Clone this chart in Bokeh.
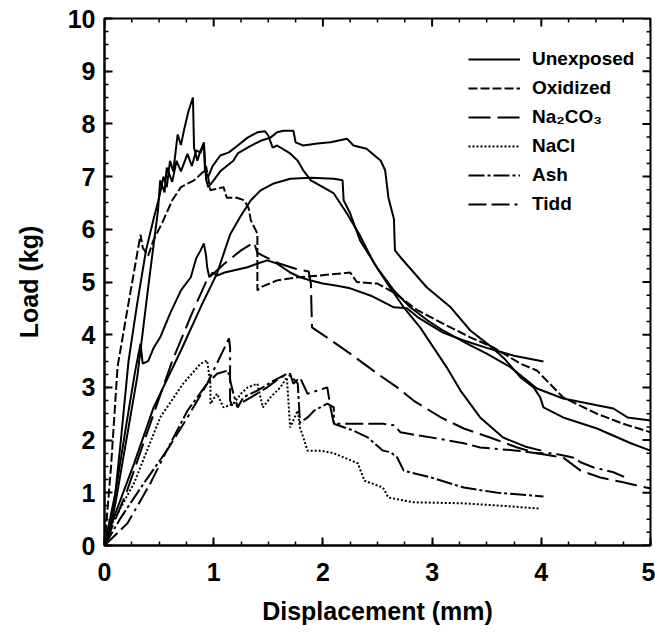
from bokeh.plotting import figure
from bokeh.models import SingleIntervalTicker, Legend, LegendItem, Range1d
from bokeh.embed import file_html
from bokeh.resources import INLINE

# ---- data (displacement mm, load kg) ----
unexposed_a_x = [0, 0.05, 0.1, 0.15, 0.22, 0.3, 0.38, 0.45, 0.5, 0.54, 0.57, 0.6, 0.63, 0.67, 0.7, 0.73, 0.77, 0.81, 0.82, 0.85, 0.88, 0.91, 0.92, 0.95, 0.99, 1.06, 1.14, 1.22, 1.31, 1.40, 1.47, 1.50, 1.54, 1.58, 1.70, 1.77, 1.82, 1.89, 2.00, 2.10, 2.22, 2.34, 2.47, 2.62, 2.74, 2.89, 3.14, 3.26, 3.44, 3.65, 3.85, 4.00]
unexposed_a_y = [0, 0.3, 1.0, 2.0, 3.5, 4.6, 5.6, 6.2, 6.6, 7.0, 6.8, 7.3, 7.1, 7.8, 7.6, 7.9, 8.25, 8.5, 7.55, 7.3, 7.5, 7.62, 7.1, 7.0, 7.2, 7.4, 7.46, 7.59, 7.74, 7.84, 7.86, 7.78, 7.55, 7.59, 7.44, 7.3, 7.12, 6.93, 6.8, 6.68, 6.3, 5.88, 5.35, 4.88, 4.52, 4.14, 3.36, 2.94, 2.43, 2.05, 1.88, 1.8]

unexposed_b_x = [0, 0.05, 0.1, 0.2, 0.3, 0.4, 0.49, 0.51, 0.55, 0.57, 0.62, 0.66, 0.7, 0.76, 0.8, 0.84, 0.88, 0.91, 0.93, 0.95, 1.0, 1.06, 1.12, 1.18, 1.22, 1.31, 1.43, 1.52, 1.58, 1.64, 1.73, 1.75, 1.82, 1.95, 2.07, 2.22, 2.28, 2.4, 2.53, 2.57, 2.6, 2.65, 2.66, 2.71, 2.87, 2.95, 3.17, 3.35, 3.56, 3.66, 3.81, 3.93, 3.99, 4.02, 4.2, 4.51, 4.82, 5.0]
unexposed_b_y = [0, 0.3, 0.8, 2.0, 3.2, 4.9, 6.36, 6.93, 6.7, 7.17, 6.9, 7.3, 7.1, 7.43, 7.2, 7.5, 7.45, 7.65, 6.95, 6.8, 6.93, 7.1, 7.2, 7.3, 7.44, 7.55, 7.68, 7.74, 7.84, 7.87, 7.87, 7.65, 7.59, 7.63, 7.65, 7.72, 7.59, 7.53, 7.3, 7.12, 6.6, 6.2, 5.6, 5.47, 5.09, 4.9, 4.52, 4.08, 3.74, 3.55, 3.19, 3.0, 2.81, 2.62, 2.43, 2.22, 1.94, 1.8]

unexposed_c_x = [0, 0.08, 0.27, 0.45, 0.7, 0.88, 1.03, 1.15, 1.25, 1.34, 1.43, 1.55, 1.7, 1.89, 2.1, 2.18, 2.19, 2.25, 2.34, 2.5, 2.65, 2.8, 2.96, 3.1, 3.32, 3.5, 3.72, 3.96, 4.2, 4.51, 4.66, 4.79, 5.0]
unexposed_c_y = [0, 0.5, 1.55, 2.62, 3.7, 4.52, 5.16, 5.9, 6.26, 6.55, 6.74, 6.87, 6.96, 6.98, 6.96, 6.93, 6.55, 6.3, 5.79, 5.26, 4.84, 4.52, 4.27, 4.08, 3.83, 3.64, 3.38, 2.98, 2.79, 2.66, 2.6, 2.43, 2.37]

unexposed_d_x = [0, 0.1, 0.2, 0.28, 0.33, 0.35, 0.4, 0.45, 0.51, 0.6, 0.7, 0.79, 0.84, 0.88, 0.91, 0.93, 0.94, 0.96, 0.99, 1.03, 1.1, 1.18, 1.31, 1.43, 1.49, 1.58, 1.7, 1.79, 1.89, 2.0, 2.13, 2.25, 2.44, 2.65, 2.77, 2.87, 3.1, 3.29, 3.5, 3.75, 4.02]
unexposed_d_y = [0, 1.0, 2.3, 3.3, 3.83, 3.45, 3.5, 3.75, 3.95, 4.4, 4.84, 5.09, 5.45, 5.6, 5.73, 5.5, 5.28, 5.09, 5.18, 5.12, 5.18, 5.22, 5.28, 5.37, 5.41, 5.35, 5.18, 5.09, 5.03, 4.97, 4.93, 4.88, 4.74, 4.52, 4.5, 4.33, 4.04, 3.89, 3.75, 3.6, 3.49]

oxidized_x = [0, 0.06, 0.12, 0.22, 0.33, 0.35, 0.4, 0.45, 0.53, 0.62, 0.7, 0.82, 0.91, 0.93, 0.97, 1.09, 1.12, 1.21, 1.28, 1.32, 1.34, 1.4, 1.4, 1.43, 1.58, 1.77, 1.95, 2.25, 2.31, 2.5, 2.65, 2.87, 3.1, 3.35, 3.56, 3.81, 3.96, 4.2, 4.51, 4.75, 5.0]
oxidized_y = [0, 1.5, 3.4, 4.6, 5.9, 5.65, 5.5, 5.8, 6.13, 6.55, 6.8, 6.93, 7.1, 7.2, 6.74, 6.8, 6.6, 6.6, 6.55, 6.4, 6.17, 5.92, 4.84, 4.9, 5.03, 5.09, 5.12, 5.18, 5.0, 4.97, 4.8, 4.46, 4.21, 3.95, 3.76, 3.45, 3.32, 2.81, 2.5, 2.31, 2.15]

na2co3_x = [0, 0.2, 0.4, 0.62, 0.8, 0.94, 1.1, 1.25, 1.37, 1.4, 1.5, 1.6, 1.75, 1.87, 1.89, 1.9, 2.07, 2.25, 2.5, 2.68, 2.83, 3.08, 3.29, 3.53, 3.78, 3.96, 4.2, 4.36, 4.54, 4.75, 5.0]
na2co3_y = [0, 1.0, 2.2, 3.5, 4.4, 5.05, 5.35, 5.6, 5.75, 5.55, 5.45, 5.35, 5.25, 5.2, 4.97, 4.14, 3.9, 3.64, 3.26, 3.0, 2.75, 2.43, 2.22, 2.05, 1.86, 1.75, 1.67, 1.42, 1.29, 1.2, 1.08]

nacl_x = [0, 0.05, 0.27, 0.51, 0.72, 0.88, 0.94, 0.97, 0.97, 1.03, 1.09, 1.18, 1.25, 1.31, 1.4, 1.45, 1.52, 1.61, 1.67, 1.7, 1.77, 1.79, 1.86, 1.98, 2.1, 2.32, 2.38, 2.55, 2.6, 2.83, 3.29, 3.6, 3.99]
nacl_y = [0, 0.34, 1.18, 2.43, 3.07, 3.45, 3.51, 3.07, 2.69, 2.88, 2.62, 2.69, 2.88, 3.0, 3.07, 2.62, 2.81, 3.0, 3.19, 2.24, 2.56, 2.24, 1.8, 1.8, 1.75, 1.56, 1.23, 1.1, 0.91, 0.82, 0.8, 0.76, 0.7]

ash_x = [0, 0.15, 0.36, 0.57, 0.76, 0.94, 1.03, 1.13, 1.18, 1.22, 1.27, 1.4, 1.55, 1.67, 1.72, 1.77, 1.79, 1.86, 1.92, 2.04, 2.1, 2.1, 2.28, 2.41, 2.55, 2.62, 2.68, 2.74, 2.99, 3.29, 3.6, 4.02]
ash_y = [0, 0.53, 1.18, 1.8, 2.56, 3.07, 3.26, 3.32, 2.88, 2.62, 2.81, 2.94, 3.13, 3.26, 3.19, 3.07, 2.33, 2.43, 2.56, 2.69, 2.62, 2.31, 2.18, 2.05, 1.8, 1.77, 1.67, 1.42, 1.29, 1.1, 1.0, 0.93]

tidd_x = [0, 0.21, 0.42, 0.57, 0.76, 0.94, 1.14, 1.15, 1.15, 1.18, 1.34, 1.49, 1.61, 1.7, 1.73, 1.79, 1.86, 1.95, 2.04, 2.07, 2.1, 2.28, 2.55, 2.65, 2.71, 2.87, 3.05, 3.29, 3.44, 3.78, 3.96, 4.11, 4.29, 4.36, 4.48, 4.66, 4.77]
tidd_y = [0, 0.42, 1.18, 1.8, 2.43, 3.07, 3.93, 3.76, 2.75, 2.62, 2.81, 3.0, 3.19, 3.26, 3.07, 3.19, 2.88, 2.94, 3.0, 2.62, 2.31, 2.31, 2.31, 2.28, 2.15, 2.09, 2.03, 1.94, 1.86, 1.8, 1.75, 1.75, 1.67, 1.58, 1.48, 1.39, 1.29]

legend_labels = ["Unexposed", "Oxidized", "Na\u2082CO\u2083", "NaCl", "Ash", "Tidd"]
x_label = "Displacement (mm)"
y_label = "Load (kg)"

# axis extents and tick spacing
X_MIN, X_MAX, Y_MIN, Y_MAX = 0, 5, 0, 10
MAJOR_STEP, MINOR_PER_MAJOR = 1, 4

FONT = "Liberation Sans"
W, H = 655, 633
B_LEFT, B_RIGHT, B_TOP, B_BOTTOM = 104, 5, 18, 88

p = figure(width=W, height=H, x_range=Range1d(X_MIN, X_MAX), y_range=Range1d(Y_MIN, Y_MAX),
           output_backend="svg", toolbar_location=None,
           min_border_left=B_LEFT, min_border_right=B_RIGHT,
           min_border_top=B_TOP, min_border_bottom=B_BOTTOM,
           background_fill_color="white", border_fill_color="white")
p.xgrid.visible = False
p.ygrid.visible = False
p.outline_line_color = "black"
p.outline_line_width = 2

for ax in (p.xaxis[0], p.yaxis[0]):
    ax.ticker = SingleIntervalTicker(interval=MAJOR_STEP, num_minor_ticks=MINOR_PER_MAJOR)
    ax.major_tick_in = 8
    ax.major_tick_out = 0
    ax.minor_tick_in = 4
    ax.minor_tick_out = 0
    ax.axis_line_width = 2
    ax.major_tick_line_width = 2
    ax.minor_tick_line_width = 1.5
    ax.axis_line_color = "black"
    ax.major_tick_line_color = "black"
    ax.minor_tick_line_color = "black"
    ax.major_label_text_font = FONT
    ax.major_label_text_font_style = "bold"
    ax.major_label_text_font_size = "25px"
    ax.major_label_text_color = "black"
    ax.axis_label_text_font = FONT
    ax.axis_label_text_font_style = "bold"
    ax.axis_label_text_font_size = "25px"
    ax.axis_label_text_color = "black"

p.xaxis[0].axis_label = x_label
p.yaxis[0].axis_label = y_label
p.xaxis[0].major_label_standoff = 17
p.xaxis[0].axis_label_standoff = 13
p.yaxis[0].major_label_standoff = 9
p.yaxis[0].axis_label_standoff = 22

# inward ticks on the top and right frame edges (mirroring bottom/left axes)
frame_w = W - B_LEFT - B_RIGHT
frame_h = H - B_TOP - B_BOTTOM
px_x = (X_MAX - X_MIN) / frame_w
px_y = (Y_MAX - Y_MIN) / frame_h
step_minor = MAJOR_STEP / MINOR_PER_MAJOR
xt = [X_MIN + i * step_minor for i in range(int(round((X_MAX - X_MIN) / step_minor)) + 1)]
yt = [Y_MIN + i * step_minor for i in range(int(round((Y_MAX - Y_MIN) / step_minor)) + 1)]
xt_major = [v for v in xt if abs(v - round(v)) < 1e-9]
xt_minor = [v for v in xt if abs(v - round(v)) >= 1e-9]
yt_major = [v for v in yt if abs(v - round(v)) < 1e-9]
yt_minor = [v for v in yt if abs(v - round(v)) >= 1e-9]
p.segment(x0=xt_major, y0=[Y_MAX] * len(xt_major), x1=xt_major, y1=[Y_MAX - 8 * px_y] * len(xt_major),
          line_color="black", line_width=2)
p.segment(x0=xt_minor, y0=[Y_MAX] * len(xt_minor), x1=xt_minor, y1=[Y_MAX - 4 * px_y] * len(xt_minor),
          line_color="black", line_width=1.5)
p.segment(x0=[X_MAX] * len(yt_major), y0=yt_major, x1=[X_MAX - 8 * px_x] * len(yt_major), y1=yt_major,
          line_color="black", line_width=2)
p.segment(x0=[X_MAX] * len(yt_minor), y0=yt_minor, x1=[X_MAX - 4 * px_x] * len(yt_minor), y1=yt_minor,
          line_color="black", line_width=1.5)

LW = 2
r_un = p.line(unexposed_a_x, unexposed_a_y, line_color="black", line_width=LW)
p.line(unexposed_b_x, unexposed_b_y, line_color="black", line_width=LW)
p.line(unexposed_c_x, unexposed_c_y, line_color="black", line_width=LW)
p.line(unexposed_d_x, unexposed_d_y, line_color="black", line_width=LW)
r_ox = p.line(oxidized_x, oxidized_y, line_color="black", line_width=LW, line_dash="9 3")
r_na = p.line(na2co3_x, na2co3_y, line_color="black", line_width=LW, line_dash="22 7")
r_cl = p.line(nacl_x, nacl_y, line_color="black", line_width=LW, line_dash="2 2")
r_ash = p.line(ash_x, ash_y, line_color="black", line_width=LW, line_dash="16 3 3 3")
r_tidd = p.line(tidd_x, tidd_y, line_color="black", line_width=LW, line_dash="18 5 18 5 3 5")

rends = [r_un, r_ox, r_na, r_cl, r_ash, r_tidd]
legend = Legend(items=[LegendItem(label=l, renderers=[r]) for l, r in zip(legend_labels, rends)],
                location=(364, 330), glyph_width=52, glyph_height=20, label_height=20,
                spacing=7, padding=0, margin=0, border_line_color=None,
                background_fill_alpha=0, label_standoff=12,
                label_text_font=FONT, label_text_font_style="bold",
                label_text_font_size="19px", label_text_color="black")
p.add_layout(legend)

open("out.html", "w").write(file_html(p, INLINE))
